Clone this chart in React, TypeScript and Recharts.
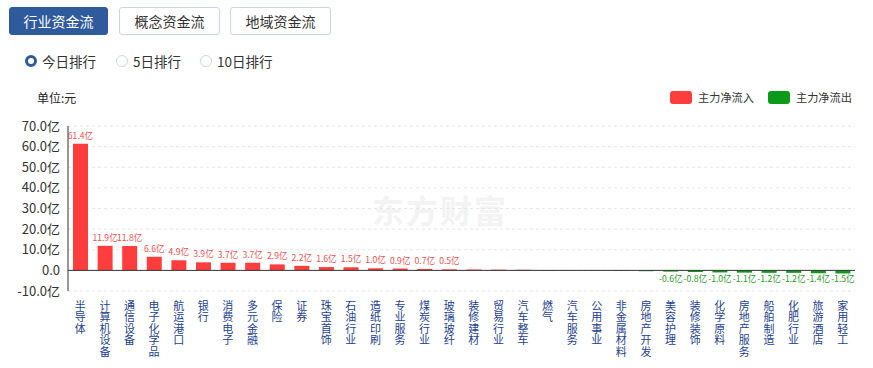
import React from 'react';
import {
  BarChart,
  Bar,
  XAxis,
  YAxis,
  CartesianGrid,
  ReferenceLine,
  Cell,
  LabelList,
} from 'recharts';

const categories = [
  '半导体', '计算机设备', '通信设备', '电子化学品', '航运港口', '银行', '消费电子', '多元金融',
  '保险', '证券', '珠宝首饰', '石油行业', '造纸印刷', '专业服务', '煤炭行业', '玻璃玻纤',
  '装修建材', '贸易行业', '汽车整车', '燃气', '汽车服务', '公用事业', '非金属材料', '房地产开发',
  '美容护理', '装修装饰', '化学原料', '房地产服务', '船舶制造', '化肥行业', '旅游酒店', '家用轻工',
];

// 主力净流入 (亿元)
const netFlow = [
  61.4, 11.9, 11.8, 6.6, 4.9, 3.9, 3.7, 3.7,
  2.9, 2.2, 1.6, 1.5, 1.0, 0.9, 0.7, 0.5,
  0.4, 0.35, 0.3, 0.1, 0.03, -0.05, -0.2, -0.4,
  -0.6, -0.8, -1.0, -1.1, -1.2, -1.2, -1.4, -1.5,
];

const yTicks = [-10, 0, 10, 20, 30, 40, 50, 60, 70];
const tabs = ['行业资金流', '概念资金流', '地域资金流'];
const ranks = ['今日排行', '5日排行', '10日排行'];

const RED = '#ff3d3d';
const GREEN = '#0b9a1a';
const BLUE = '#2f5a9c';
const FONT = '"Noto Sans CJK SC", "Noto Sans", sans-serif';

const data = categories.map((name, i) => ({ name, value: netFlow[i] }));

// one character per line, stacked under the tick
function VerticalTick(props: any) {
  const { x, y, payload } = props;
  const chars = String(payload.value).split('');
  return (
    <g>
      {chars.map((c, i) => (
        <text
          key={i}
          x={x}
          y={y + 11 + i * 11.4}
          textAnchor="middle"
          fontSize={11}
          fill="#1e3f8f"
          fontFamily={FONT}
        >
          {c}
        </text>
      ))}
    </g>
  );
}

function ValueLabel(props: any) {
  const { x, y, width, height, value } = props;
  if (Math.abs(value) < 0.5) return null;
  const cx = x + width / 2;
  const pos = value >= 0;
  const ty = pos ? y - 5 : y + height + 12;
  return (
    <text x={cx} y={ty} textAnchor="middle" fontSize={8.6} fill={pos ? '#f05050' : '#2a9a2a'} fontFamily={FONT}>
      {value.toFixed(1)}亿
    </text>
  );
}

export default function App() {
  return (
    <div style={{ position: 'absolute', left: 0, top: 0, width: 873, height: 368, background: '#fff', fontFamily: FONT }}>
      {tabs.map((t, i) => (
        <div
          key={t}
          style={{
            position: 'absolute',
            left: [9, 119, 230][i],
            top: 7,
            width: [99, 101, 101][i],
            height: 28,
            boxSizing: 'border-box',
            border: `1px solid ${i === 0 ? BLUE : '#c9d5e5'}`,
            borderRadius: 3,
            background: i === 0 ? BLUE : '#fff',
            color: i === 0 ? '#fff' : '#333',
            fontSize: 14,
            lineHeight: '26px',
            textAlign: 'center',
          }}
        >
          {t}
        </div>
      ))}
      {ranks.map((r, i) => {
        const left = [25, 116, 200][i];
        return (
          <div key={r} style={{ position: 'absolute', left, top: 52, height: 18, display: 'flex', alignItems: 'center' }}>
            <span
              style={{
                display: 'inline-block',
                width: 12,
                height: 12,
                boxSizing: 'border-box',
                borderRadius: '50%',
                border: i === 0 ? `3.5px solid ${BLUE}` : '1px solid #d0d8e4',
                background: '#fff',
                marginRight: 5,
              }}
            />
            <span style={{ fontSize: 13.5, color: '#333' }}>{r}</span>
          </div>
        );
      })}
      <div style={{ position: 'absolute', left: 37, top: 89, fontSize: 12, color: '#222' }}>单位:元</div>
      <div style={{ position: 'absolute', left: 670, top: 89, display: 'flex', alignItems: 'center', fontSize: 11.2, color: '#333' }}>
        <span style={{ width: 22, height: 13, borderRadius: 3, background: RED, marginRight: 6 }} />
        <span style={{ marginRight: 14 }}>主力净流入</span>
        <span style={{ width: 22, height: 13, borderRadius: 3, background: GREEN, marginRight: 6 }} />
        <span>主力净流出</span>
      </div>
      <div
        style={{
          position: 'absolute',
          left: 372,
          top: 186,
          fontSize: 32,
          fontWeight: 700,
          color: '#f3f3f3',
          letterSpacing: 2,
        }}
      >
        东方财富
      </div>
      <div style={{ position: 'absolute', left: 0, top: 0 }}>
        <BarChart width={873} height={368} data={data} margin={{ top: 126, right: 18, bottom: 0, left: 0 }}>
          <CartesianGrid horizontal vertical={false} stroke="#e6e6e6" strokeDasharray="3 3" />
          <XAxis
            dataKey="name"
            interval={0}
            axisLine={false}
            tickLine={false}
            height={77}
            tick={<VerticalTick />}
          />
          <YAxis
            type="number"
            domain={[-10, 70]}
            ticks={yTicks}
            interval={0}
            width={68}
            axisLine={{ stroke: '#333' }}
            tickLine={false}
            tick={{ fontSize: 13, fill: '#333', fontFamily: FONT }}
            tickFormatter={(v: number) => (v === 0 ? '0.0' : `${v.toFixed(1)}亿`)}
          />
          <ReferenceLine y={0} stroke="#333" strokeWidth={1} />
          <Bar dataKey="value" barSize={15} isAnimationActive={false}>
            {data.map((d, i) => (
              <Cell key={i} fill={d.value >= 0 ? RED : GREEN} />
            ))}
            <LabelList dataKey="value" content={<ValueLabel />} />
          </Bar>
        </BarChart>
      </div>
    </div>
  );
}
